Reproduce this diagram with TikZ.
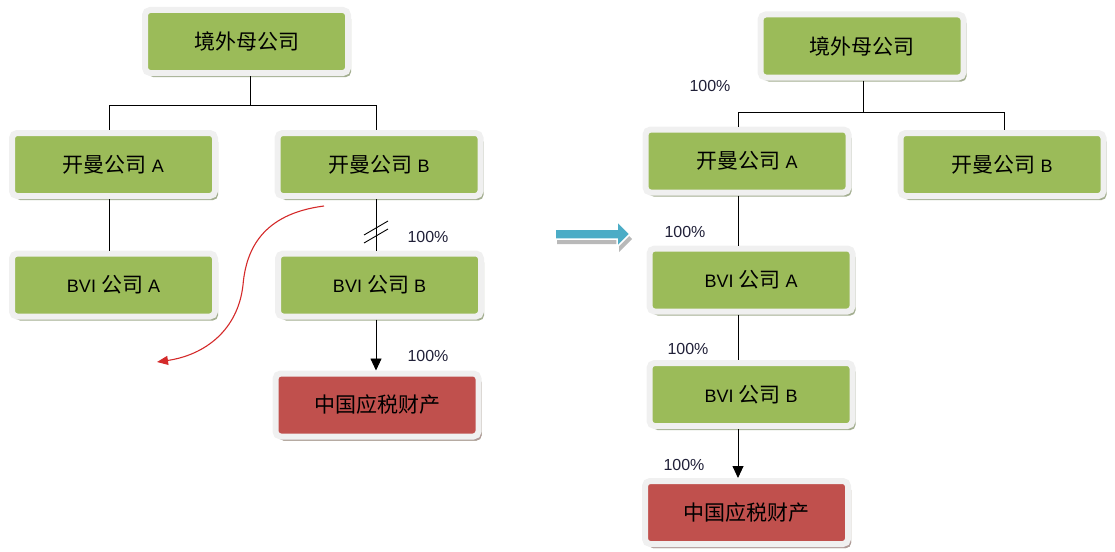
\documentclass[tikz,border=0pt]{standalone}
\usepackage{fontspec}
\setmainfont{Liberation Sans}
\newfontfamily\cjk{Noto Sans CJK SC}
\usetikzlibrary{shadows,arrows.meta}
\definecolor{boxgreen}{HTML}{9BBB59}
\definecolor{boxred}{HTML}{C0504D}
\definecolor{rimgray}{HTML}{F0F0F0}
\definecolor{shadegreen}{HTML}{A3AE90}
\definecolor{shadered}{HTML}{B09A98}
\definecolor{pctcol}{HTML}{202038}
\definecolor{curvered}{HTML}{D42A2A}
\definecolor{bluearrow}{HTML}{4BACC6}
\tikzset{
  entity/.style={draw=rimgray, line width=6pt, rounded corners=5pt,
    fill=boxgreen, minimum width=203pt, minimum height=63pt,
    font=\fontsize{18}{21}\selectfont, inner sep=0pt,
    drop shadow={shadow xshift=3pt, shadow yshift=-4pt, fill=shadegreen, opacity=1}},
  asset/.style={entity, fill=boxred,
    drop shadow={shadow xshift=3pt, shadow yshift=-4pt, fill=shadered, opacity=1}},
  pct/.style={font=\fontsize{16}{19}\selectfont, text=pctcol, inner sep=0pt},
  link/.style={line width=0.9pt, black},
  flow/.style={line width=0.9pt, black, -{Triangle[width=11pt,length=12pt]}},
}
\newcommand{\zh}[1]{{\cjk\fontsize{21}{24}\selectfont #1}}
\begin{document}
\begin{tikzpicture}[x=1pt,y=-1pt]
\useasboundingbox (0,0) rectangle (1115,551);

% ---------- left diagram ----------
\node[entity] (Ltop) at (246.5,41.5) {\zh{境外母公司}};
\node[entity] (LKA) at (113.5,164.5) {\zh{开曼公司} A};
\node[entity] (LKB) at (379,164.5) {\zh{开曼公司} B};
\node[entity] (LBA) at (113.5,285) {BVI \zh{公司} A};
\node[entity] (LBB) at (379.5,285) {BVI \zh{公司} B};
\node[asset] (LCN) at (377,405) {\zh{中国应税财产}};

\coordinate (lxt) at (250,105);
\coordinate (lxa) at (109,0);
\coordinate (lxb) at (376,0);

\draw[link] (Ltop.south -| lxt) -- (lxt);
\draw[link] (lxt -| lxa) -- (lxt -| lxb);
\draw[link] (lxt -| lxa) -- (LKA.north -| lxa);
\draw[link] (lxt -| lxb) -- (LKB.north -| lxb);
\draw[link] (LKA.south -| lxa) -- (LBA.north -| lxa);
\draw[link] (LKB.south -| lxb) -- (LBB.north -| lxb);
\draw[flow] (LBB.south -| lxb) -- (LCN.north -| lxb);

% break mark
\coordinate (brk) at (376,232);
\draw[line width=0.9pt] ([shift={(-12pt,-3pt)}]brk) -- ([shift={(12pt,11pt)}]brk);
\draw[line width=0.9pt] ([shift={(-12pt,-11pt)}]brk) -- ([shift={(12pt,3pt)}]brk);

\node[pct] (Lp1) at (428,237) {100\%};
\node[pct] (Lp2) at (428,356) {100\%};

% red curved arrow
\coordinate (cs) at (324,206);
\coordinate (ce) at (157,362);
\draw[curvered, line width=1.1pt, -{Triangle[width=9pt,length=11pt]}]
  (cs) .. controls (262,214) and (246,250) .. (243,285)
  .. controls (238,330) and (205,355) .. (ce);

% ---------- blue transition arrow ----------
\filldraw[bluearrow, draw=white, line width=1.5pt,
  drop shadow={shadow xshift=2pt, shadow yshift=-5pt, fill=gray!55, opacity=1}]
  (555,229) -- (617,229) -- (617,221) -- (630,234) -- (617,247) -- (617,239) -- (555,239) -- cycle;

% ---------- right diagram ----------
\node[entity] (Rtop) at (862,46) {\zh{境外母公司}};
\node[entity] (RKA) at (747,161) {\zh{开曼公司} A};
\node[entity] (RKB) at (1002,164.5) {\zh{开曼公司} B};
\node[entity] (RBA) at (751,280) {BVI \zh{公司} A};
\node[entity] (RBB) at (751,394.5) {BVI \zh{公司} B};
\node[asset] (RCN) at (746.5,512.5) {\zh{中国应税财产}};

\coordinate (rxt) at (863,112);
\coordinate (rxa) at (738,0);
\coordinate (rxb) at (1004,0);

\draw[link] (Rtop.south -| rxt) -- (rxt);
\draw[link] (rxt -| rxa) -- (rxt -| rxb);
\draw[link] (rxt -| rxa) -- (RKA.north -| rxa);
\draw[link] (rxt -| rxb) -- (RKB.north -| rxb);
\draw[link] (RKA.south -| rxa) -- (RBA.north -| rxa);
\draw[link] (RBA.south -| rxa) -- (RBB.north -| rxa);
\draw[flow] (RBB.south -| rxa) -- (RCN.north -| rxa);

\node[pct] (Rp0) at (710,86) {100\%};
\node[pct] (Rp1) at (685,232) {100\%};
\node[pct] (Rp2) at (688,349) {100\%};
\node[pct] (Rp3) at (684,465) {100\%};
\end{tikzpicture}
\end{document}
